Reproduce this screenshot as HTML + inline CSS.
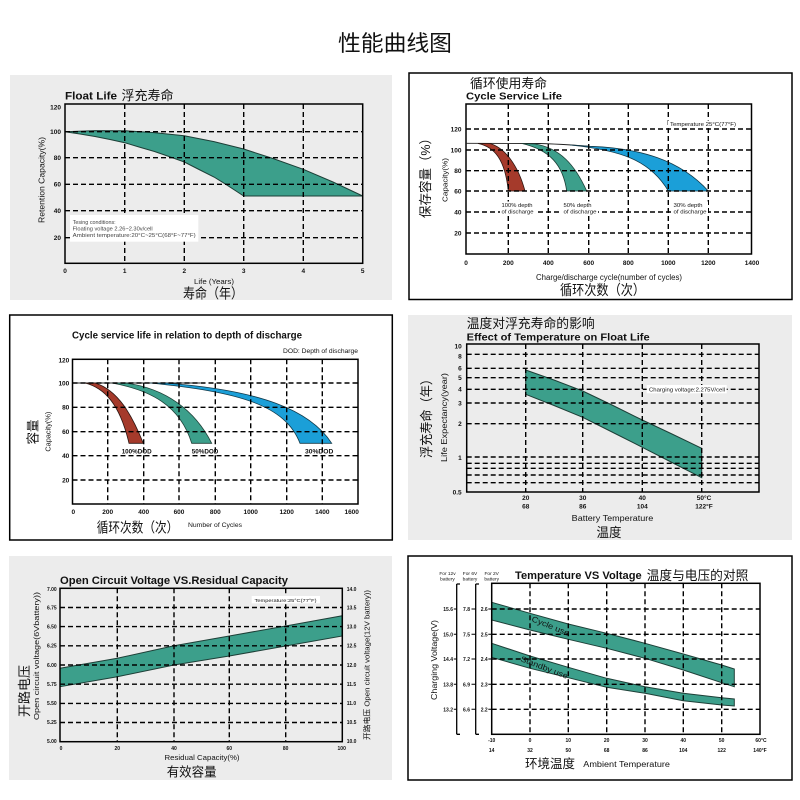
<!DOCTYPE html>
<html><head><meta charset="utf-8">
<style>
html,body{margin:0;padding:0;background:#fff;}
svg{display:block;}
text{font-family:"Liberation Sans","Noto Sans CJK SC",sans-serif;fill:#111;}
.t{font-weight:bold;font-size:6.5px;fill:#222;}
.s{font-weight:bold;font-size:5px;fill:#333;}
.g{stroke:#000;stroke-width:1.4;stroke-dasharray:5 3;fill:none;}
.b{stroke:#000;stroke-width:1.5;fill:none;}
.band{fill:#3c9f8b;stroke:#1d3f37;stroke-width:1;}
.n{font-size:5.5px;fill:#444;}
</style></head><body>
<svg width="800" height="800" viewBox="0 0 800 800" xmlns="http://www.w3.org/2000/svg">
<rect width="800" height="800" fill="#fff"/>
<text x="395" y="51" font-size="22" text-anchor="middle" textLength="114" lengthAdjust="spacingAndGlyphs">性能曲线图</text>

<!-- Panel 1: Float Life -->
<rect x="10" y="75" width="382" height="225" fill="#ececec"/>
<text x="65" y="99.5" font-size="11" font-weight="bold" textLength="52" lengthAdjust="spacingAndGlyphs">Float Life</text>
<text x="121.5" y="100" font-size="13" textLength="52" lengthAdjust="spacingAndGlyphs">浮充寿命</text>
<polygon class="band" points="65,131.7 95,130.6 124.7,130.7 154,132.6 184.3,135.7 214,141.6 243.7,149 273,158.5 303.3,169.3 333,182 362.7,196 243.7,196 236,191 225.8,184.3 214,177 200,170 184.3,162 169,156.5 154.5,151.5 139,147 124.7,142.7 110,139.5 95,136.5 80,134 65,131.7"/>
<path class="g" d="M124.7 104V263M184.3 104V263M243.7 104V263M303.3 104V263M65 131.7H362.7M65 157.7H362.7M65 184.3H362.7M65 210.7H362.7M65 237.7H362.7"/>
<rect x="65" y="104" width="297.7" height="159.3" class="b"/>
<rect x="70" y="215" width="128.3" height="26.7" fill="#fff"/>
<text class="n" x="72.7" y="224" textLength="43" lengthAdjust="spacingAndGlyphs">Tesing conditions:</text>
<text class="n" x="72.7" y="230.5" textLength="80" lengthAdjust="spacingAndGlyphs">Floating voltage 2.26~2.30v/cell</text>
<text class="n" x="72.7" y="237" textLength="123" lengthAdjust="spacingAndGlyphs">Ambient temperature:20°C~25°C(68°F~77°F)</text>
<g class="t" text-anchor="end">
<text x="61" y="109.6">120</text><text x="61" y="134">100</text><text x="61" y="160">80</text><text x="61" y="186.6">60</text><text x="61" y="213">40</text><text x="61" y="240">20</text>
</g>
<g class="t" text-anchor="middle">
<text x="65" y="273">0</text><text x="124.7" y="273">1</text><text x="184.3" y="273">2</text><text x="243.7" y="273">3</text><text x="303.3" y="273">4</text><text x="362.7" y="273">5</text>
</g>
<text transform="translate(44.5,180) rotate(-90)" font-size="8" text-anchor="middle" fill="#333" textLength="86" lengthAdjust="spacingAndGlyphs">Retention Capacity(%)</text>
<text x="214" y="284" font-size="7.5" text-anchor="middle" fill="#333" textLength="40" lengthAdjust="spacingAndGlyphs">Life (Years)</text>
<text x="213" y="298.5" font-size="14" text-anchor="middle" textLength="60" lengthAdjust="spacingAndGlyphs">寿命（年）</text>

<!-- Panel 2: Cycle Service Life -->
<rect x="409" y="73" width="383" height="226.5" fill="#fff" stroke="#000" stroke-width="1.5"/>
<text x="470" y="88" font-size="13" textLength="77" lengthAdjust="spacingAndGlyphs">循环使用寿命</text>
<text x="466" y="99.5" font-size="10.5" font-weight="bold" textLength="96" lengthAdjust="spacingAndGlyphs">Cycle Service Life</text>
<path d="M466.7 143.3L540 143.5Q570 144.5 590 146.5" stroke="#222" stroke-width="0.9" fill="none"/>
<path d="M478 143.5C495 147 505 160 508.3 191L525 191C518 165 505 148 490 143.5Z" fill="#a53a2b" stroke="#2a1510" stroke-width="0.8"/>
<path d="M522 143.5C550 150 563 165 566.7 191L586.7 191C575 165 560 148 535 144Z" fill="#3c9f8b" stroke="#1d3f37" stroke-width="0.8"/>
<path d="M570 145C620 150 650 160 668.3 191L708.3 191C680 160 640 148 590 146.3Z" fill="#1b9fd8" stroke="#123a4a" stroke-width="0.8"/>
<path class="g" d="M508.3 104V254M548.3 104V254M588.7 104V254M628.3 104V254M668.3 104V254M708.3 104V254M466 129H751.5M466 150H751.5M466 170.7H751.5M466 191H751.5M466 212H751.5M466 233H751.5"/>
<rect x="466" y="104" width="285.5" height="150" class="b"/>
<rect x="668" y="120.5" width="71" height="7" fill="#fff"/>
<text x="670" y="126" font-size="5.5" fill="#444" textLength="66" lengthAdjust="spacingAndGlyphs">Temperature 25°C(77°F)</text>
<rect x="500" y="201.5" width="35" height="12.5" fill="#fff"/>
<rect x="562" y="201.5" width="36" height="12.5" fill="#fff"/>
<rect x="672" y="201.5" width="36" height="12.5" fill="#fff"/>
<g class="n" font-size="5.5">
<text x="501.5" y="207" textLength="31" lengthAdjust="spacingAndGlyphs">100% depth</text>
<text x="501.5" y="213.5" textLength="32" lengthAdjust="spacingAndGlyphs">of discharge</text>
<text x="563.5" y="207" textLength="28" lengthAdjust="spacingAndGlyphs">50% depth</text>
<text x="563.5" y="213.5" textLength="33" lengthAdjust="spacingAndGlyphs">of discharge</text>
<text x="673.5" y="207" textLength="29" lengthAdjust="spacingAndGlyphs">30% depth</text>
<text x="673.5" y="213.5" textLength="33" lengthAdjust="spacingAndGlyphs">of discharge</text>
</g>
<g class="t" text-anchor="end">
<text x="461.5" y="131.5">120</text><text x="461.5" y="152.5">100</text><text x="461.5" y="173">80</text><text x="461.5" y="193.5">60</text><text x="461.5" y="214.5">40</text><text x="461.5" y="235.5">20</text>
</g>
<g class="t" text-anchor="middle">
<text x="466" y="265">0</text><text x="508.3" y="265">200</text><text x="548.3" y="265">400</text><text x="588.7" y="265">600</text><text x="628.3" y="265">800</text><text x="668.3" y="265">1000</text><text x="708.3" y="265">1200</text><text x="752" y="265">1400</text>
</g>
<text transform="translate(430,175) rotate(-90)" font-size="13" text-anchor="middle" textLength="86" lengthAdjust="spacingAndGlyphs">保存容量（%）</text>
<text transform="translate(447.5,180) rotate(-90)" font-size="7.5" text-anchor="middle" fill="#333" textLength="44" lengthAdjust="spacingAndGlyphs">Capacity(%)</text>
<text x="609" y="280" font-size="8" text-anchor="middle" fill="#333" textLength="146" lengthAdjust="spacingAndGlyphs">Charge/discharge cycle(number of cycles)</text>
<text x="602.5" y="295" font-size="14" text-anchor="middle" textLength="85" lengthAdjust="spacingAndGlyphs">循环次数（次）</text>

<!-- Panel 3: Cycle service life vs DOD -->
<rect x="9.7" y="315" width="382.6" height="225" fill="#fff" stroke="#000" stroke-width="1.5"/>
<text x="72" y="338.5" font-size="10" font-weight="bold" textLength="230" lengthAdjust="spacingAndGlyphs">Cycle service life in relation to depth of discharge</text>
<text x="358" y="353" font-size="6" text-anchor="end" fill="#333" textLength="75" lengthAdjust="spacingAndGlyphs">DOD: Depth of discharge</text>
<path d="M72.5 383H200" stroke="#222" stroke-width="0.9" fill="none"/>
<path d="M85 383C105 388 120 405 129 443.3L143.3 443.3C132 415 118 390 95 383Z" fill="#a53a2b" stroke="#2a1510" stroke-width="0.8"/>
<path d="M112 383C150 390 180 405 191.7 443.3L211.7 443.3C195 410 165 388 125 383Z" fill="#3c9f8b" stroke="#1d3f37" stroke-width="0.8"/>
<path d="M150 383C240 392 285 405 300 443.3L331.7 443.3C310 410 260 390 165 383Z" fill="#1b9fd8" stroke="#123a4a" stroke-width="0.8"/>
<path class="g" d="M107.7 359.3V504M143.7 359.3V504M179 359.3V504M215.3 359.3V504M250.7 359.3V504M286.7 359.3V504M322.3 359.3V504M72.5 383H358M72.5 407.3H358M72.5 431.7H358M72.5 455.7H358M72.5 480H358"/>
<rect x="72.5" y="359.3" width="285.5" height="144.7" class="b"/>
<g font-size="6.5" font-weight="bold" fill="#555">
<text x="121.7" y="453.5" fill="#555" textLength="30" lengthAdjust="spacingAndGlyphs">100%DOD</text>
<text x="191.7" y="453.5" fill="#555" textLength="26.7" lengthAdjust="spacingAndGlyphs">50%DOD</text>
<text x="305" y="453.5" fill="#555" textLength="28.3" lengthAdjust="spacingAndGlyphs">30%DOD</text>
</g>
<g class="t" text-anchor="end">
<text x="69.3" y="362.3">120</text><text x="69.3" y="385.3">100</text><text x="69.3" y="409.6">80</text><text x="69.3" y="434">60</text><text x="69.3" y="458">40</text><text x="69.3" y="482.3">20</text>
</g>
<g class="t" text-anchor="middle">
<text x="73.3" y="514">0</text><text x="107.7" y="514">200</text><text x="143.7" y="514">400</text><text x="179" y="514">600</text><text x="215.3" y="514">800</text><text x="250.7" y="514">1000</text><text x="286.7" y="514">1200</text><text x="322.3" y="514">1400</text><text x="351.7" y="514">1600</text>
</g>
<text transform="translate(37.5,432) rotate(-90)" font-size="13" text-anchor="middle" textLength="25" lengthAdjust="spacingAndGlyphs">容量</text>
<text transform="translate(50.3,431.7) rotate(-90)" font-size="7" text-anchor="middle" fill="#333" textLength="40" lengthAdjust="spacingAndGlyphs">Capacity(%)</text>
<text x="96.7" y="532.5" font-size="14" textLength="81.6" lengthAdjust="spacingAndGlyphs">循环次数（次）</text>
<text x="188" y="527" font-size="6" fill="#333" textLength="54" lengthAdjust="spacingAndGlyphs">Number of Cycles</text>

<!-- Panel 4: Effect of Temperature on Float Life -->
<rect x="408" y="315" width="384" height="225" fill="#ececec"/>
<text x="466.7" y="328" font-size="13" textLength="128" lengthAdjust="spacingAndGlyphs">温度对浮充寿命的影响</text>
<text x="466.7" y="340.5" font-size="10.5" font-weight="bold" textLength="183" lengthAdjust="spacingAndGlyphs">Effect of Temperature on Float Life</text>
<polygon class="band" points="525.7,370 554,380 582.7,391 612,405 642.3,420 672,434 701.7,448.3 701.7,477.7 672,462.5 642.3,447.3 612,432 582.7,417.3 554,405.5 525.7,394.3"/>
<path class="g" d="M525.7 344V492M582.7 344V492M642.3 344V492M701.7 344V492M466.7 354.3H759M466.7 368.3H759M466.7 377.7H759M466.7 389.3H759M466.7 403H759M466.7 423.7H759M466.7 457H759M466.7 463.3H759M466.7 468.3H759M466.7 475H759M466.7 482.7H759"/>
<rect x="466.7" y="344" width="292.3" height="148" class="b"/>
<rect x="646.7" y="385" width="80" height="8.3" fill="#fff"/>
<text x="649" y="391.5" font-size="5.5" fill="#444" textLength="76" lengthAdjust="spacingAndGlyphs">Charging voltage:2.275V/cell</text>
<g class="t" text-anchor="end">
<text x="461.7" y="348.3">10</text><text x="461.7" y="358.3">8</text><text x="461.7" y="370.6">6</text><text x="461.7" y="380">5</text><text x="461.7" y="391.6">4</text><text x="461.7" y="405.3">3</text><text x="461.7" y="426">2</text><text x="461.7" y="460">1</text><text x="461.7" y="494.3">0.5</text>
</g>
<g class="t" text-anchor="middle">
<text x="525.7" y="500">20</text><text x="582.7" y="500">30</text><text x="642.3" y="500">40</text><text x="704" y="500">50°C</text>
<text x="525.7" y="508.5">68</text><text x="582.7" y="508.5">86</text><text x="642.3" y="508.5">104</text><text x="704" y="508.5">122°F</text>
</g>
<text transform="translate(431,415.5) rotate(-90)" font-size="13" text-anchor="middle" textLength="85" lengthAdjust="spacingAndGlyphs">浮充寿命（年）</text>
<text transform="translate(447,417.5) rotate(-90)" font-size="8" text-anchor="middle" fill="#333" textLength="89" lengthAdjust="spacingAndGlyphs">Life Expectancy(year)</text>
<text x="612.5" y="521" font-size="8" text-anchor="middle" fill="#333" textLength="81.6" lengthAdjust="spacingAndGlyphs">Battery Temperature</text>
<text x="609" y="537" font-size="13" text-anchor="middle" textLength="25" lengthAdjust="spacingAndGlyphs">温度</text>

<!-- Panel 5: Open Circuit Voltage -->
<rect x="9" y="556" width="383" height="224" fill="#ececec"/>
<text x="60" y="584" font-size="11" font-weight="bold" textLength="228" lengthAdjust="spacingAndGlyphs">Open Circuit Voltage VS.Residual Capacity</text>
<polygon class="band" points="60,668.3 117.3,658.3 174,645.7 229.3,636 285.7,626 342.3,615.7 342.3,636 285.7,646 229.3,656 174,665 117.3,676.7 60,686.7"/>
<path class="g" d="M117.3 588.3V741.7M174 588.3V741.7M229.3 588.3V741.7M285.7 588.3V741.7M60 607.5H342.3M60 626.6H342.3M60 645.8H342.3M60 665H342.3M60 684.2H342.3M60 703.4H342.3M60 722.5H342.3"/>
<rect x="60" y="588.3" width="282.3" height="153.4" class="b"/>
<rect x="251.7" y="596" width="68.3" height="7.3" fill="#fff"/>
<text x="254.5" y="601.8" font-size="4.5" fill="#444" textLength="62" lengthAdjust="spacingAndGlyphs">Temperature:25°C(77°F)</text>
<g class="s" text-anchor="end">
<text x="56.7" y="591">7.00</text><text x="56.7" y="609.7">6.75</text><text x="56.7" y="628.7">6.50</text><text x="56.7" y="647.7">6.25</text><text x="56.7" y="667">6.00</text><text x="56.7" y="686">5.75</text><text x="56.7" y="705">5.50</text><text x="56.7" y="724">5.25</text><text x="56.7" y="743">5.00</text>
</g>
<g class="s">
<text x="346.7" y="591">14.0</text><text x="346.7" y="609.7">13.5</text><text x="346.7" y="628.7">13.0</text><text x="346.7" y="647.7">12.5</text><text x="346.7" y="667">12.0</text><text x="346.7" y="686">11.5</text><text x="346.7" y="705">11.0</text><text x="346.7" y="724">10.5</text><text x="346.7" y="743">10.0</text>
</g>
<g class="s" text-anchor="middle">
<text x="61" y="750">0</text><text x="117.3" y="750">20</text><text x="174" y="750">40</text><text x="229.3" y="750">60</text><text x="285.7" y="750">80</text><text x="341.7" y="750">100</text>
</g>
<text transform="translate(29,691) rotate(-90)" font-size="13" text-anchor="middle" textLength="52" lengthAdjust="spacingAndGlyphs">开路电压</text>
<text transform="translate(39,656) rotate(-90)" font-size="7.5" text-anchor="middle" fill="#333" textLength="128" lengthAdjust="spacingAndGlyphs">Open circuit voltage(6Vbattery))</text>
<text transform="translate(369.5,665) rotate(-90)" font-size="7.5" text-anchor="middle" fill="#333" textLength="150" lengthAdjust="spacingAndGlyphs">开路电压 Open circuit voltage(12V battery))</text>
<text x="202" y="760" font-size="7.5" text-anchor="middle" fill="#333" textLength="75" lengthAdjust="spacingAndGlyphs">Residual Capacity(%)</text>
<text x="191.7" y="776.5" font-size="13" text-anchor="middle" textLength="50" lengthAdjust="spacingAndGlyphs">有效容量</text>

<!-- Panel 6: Temperature VS Voltage -->
<rect x="408" y="556" width="384" height="224" fill="#fff" stroke="#000" stroke-width="1.5"/>
<text x="515" y="579" font-size="11" font-weight="bold" textLength="126.7" lengthAdjust="spacingAndGlyphs">Temperature VS Voltage</text>
<text x="646.7" y="580" font-size="13" textLength="101.6" lengthAdjust="spacingAndGlyphs">温度与电压的对照</text>
<polygon class="band" points="491.7,602.3 530,613.3 568.3,624 606.7,633.3 645,643.3 683.3,654 721.7,665 734.3,669 734.3,686.7 721.7,682.7 683.3,670 645,658.3 606.7,648.3 568.3,639.3 530,630 491.7,620"/>
<polygon class="band" points="491.7,643.3 530,656 568.3,667.3 606.7,678.3 645,686.7 683.3,693.3 721.7,697.7 734.3,699 734.3,706 721.7,705 683.3,700.7 645,693.3 606.7,687.3 568.3,677.7 530,668.3 491.7,657.3"/>
<path class="g" d="M530 583.3V734.3M568.3 583.3V734.3M606.7 583.3V734.3M645 583.3V734.3M683.3 583.3V734.3M721.7 583.3V734.3M491.7 609H760M491.7 634.3H760M491.7 659H760M491.7 684.3H760M491.7 709.3H760"/>
<rect x="491.7" y="583.3" width="268.3" height="151" class="b"/>
<text transform="translate(531,621) rotate(22)" font-size="8" fill="#1a3a33" textLength="40" lengthAdjust="spacingAndGlyphs">Cycle use</text>
<text transform="translate(520,661) rotate(21)" font-size="8" fill="#1a3a33" textLength="50" lengthAdjust="spacingAndGlyphs">Standby use</text>
<path d="M456.7 584V734.3M456.7 584H460M456.7 734.3H460M475.7 584V734.3M475.7 584H479M475.7 734.3H479" stroke="#000" stroke-width="1.3" fill="none"/>
<path d="M453.8 609H456.7M453.8 634.3H456.7M453.8 659H456.7M453.8 684.3H456.7M453.8 709.3H456.7M471.5 609H475.7M471.5 634.3H475.7M471.5 659H475.7M471.5 684.3H475.7M471.5 709.3H475.7M488.3 609H491.7M488.3 634.3H491.7M488.3 659H491.7M488.3 684.3H491.7M488.3 709.3H491.7" stroke="#000" stroke-width="1" fill="none"/>
<g font-size="4.8" fill="#444" text-anchor="middle">
<text x="447.5" y="575" fill="#444">For 12v</text><text x="447.5" y="580.5" fill="#444">battery</text>
<text x="470" y="575" fill="#444">For 6V</text><text x="470" y="580.5" fill="#444">battery</text>
<text x="491.7" y="575" fill="#444">For 2V</text><text x="491.7" y="580.5" fill="#444">battery</text>
</g>
<g class="s" text-anchor="end">
<text x="453" y="611">15.6</text><text x="453" y="636.3">15.0</text><text x="453" y="661">14.4</text><text x="453" y="686.3">13.8</text><text x="453" y="711.3">13.2</text>
<text x="470" y="611">7.8</text><text x="470" y="636.3">7.5</text><text x="470" y="661">7.2</text><text x="470" y="686.3">6.9</text><text x="470" y="711.3">6.6</text>
<text x="487.7" y="611">2.6</text><text x="487.7" y="636.3">2.5</text><text x="487.7" y="661">2.4</text><text x="487.7" y="686.3">2.3</text><text x="487.7" y="711.3">2.2</text>
</g>
<g class="s" text-anchor="middle">
<text x="491.7" y="742">-10</text><text x="530" y="742">0</text><text x="568.3" y="742">10</text><text x="606.7" y="742">20</text><text x="645" y="742">30</text><text x="683.3" y="742">40</text><text x="721.7" y="742">50</text><text x="761" y="742">60°C</text>
<text x="491.7" y="752">14</text><text x="530" y="752">32</text><text x="568.3" y="752">50</text><text x="606.7" y="752">68</text><text x="645" y="752">86</text><text x="683.3" y="752">104</text><text x="721.7" y="752">122</text><text x="760" y="752">140°F</text>
</g>
<text transform="translate(437,660) rotate(-90)" font-size="8.5" text-anchor="middle" fill="#333" textLength="80" lengthAdjust="spacingAndGlyphs">Charging Voltage(V)</text>
<text x="525" y="768" font-size="12.5" textLength="50" lengthAdjust="spacingAndGlyphs">环境温度</text>
<text x="583.3" y="767" font-size="8" fill="#333" textLength="86.7" lengthAdjust="spacingAndGlyphs">Ambient Temperature</text>
</svg>
</body></html>
